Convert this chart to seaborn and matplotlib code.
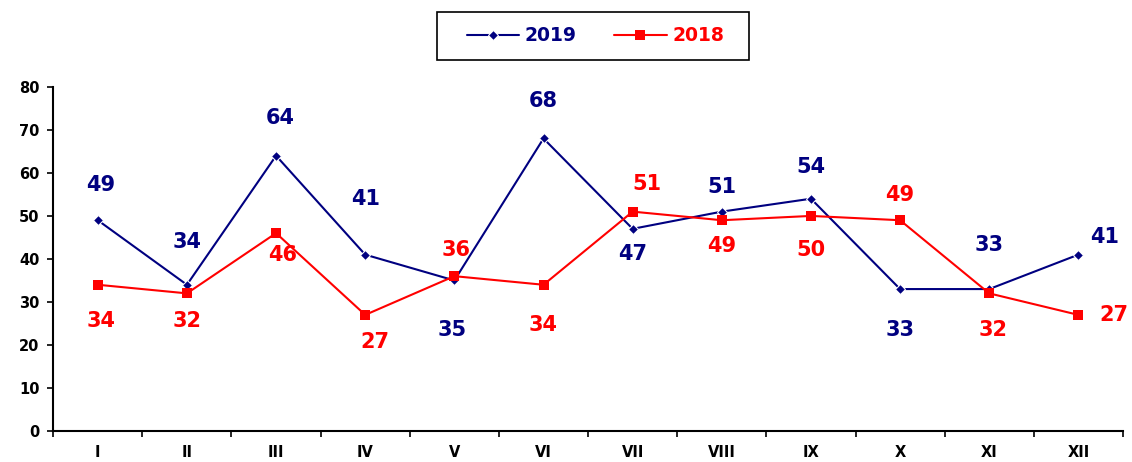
import numpy as np
import pandas as pd
import matplotlib
matplotlib.use("Agg")
import matplotlib.pyplot as plt
from matplotlib.patches import Rectangle
import seaborn as sns

months = ["I", "II", "III", "IV", "V", "VI", "VII", "VIII", "IX", "X", "XI", "XII"]
y2019 = [49, 34, 64, 41, 35, 68, 47, 51, 54, 33, 33, 41]
y2018 = [34, 32, 46, 27, 36, 34, 51, 49, 50, 49, 32, 27]

# label offsets in pixels (dx, dy)
off2019 = [(3, 35), (0, 43), (4, 38), (0, 56), (-2, -50), (0, 37), (0, -25),
           (0, 25), (0, 32), (0, -41), (0, 44), (26, 18)]
off2018 = [(3, -36), (0, -28), (7, -22), (10, -27), (2, 26), (0, -40), (14, 28),
           (0, -26), (0, -34), (0, 25), (4, -37), (36, 0)]

NAVY = "#000080"
RED = "#FF0000"

sns.set_style("white")
plt.rcParams["font.family"] = ["DejaVu Sans"]

fig = plt.figure(figsize=(11.32, 4.62), dpi=100)
ax = fig.add_axes([0.047, 0.067, 0.945, 0.745])

pos = np.arange(len(months))
df = pd.DataFrame({"pos": pos, "2019": y2019, "2018": y2018})

sns.lineplot(data=df, x="pos", y="2019", ax=ax, color=NAVY, marker="D",
             markersize=5, linewidth=1.5, label="2019")
sns.lineplot(data=df, x="pos", y="2018", ax=ax, color=RED, marker="s",
             markersize=7, markeredgewidth=0, linewidth=1.5, label="2018")

for i, v in enumerate(y2019):
    ax.annotate(str(v), (pos[i], v), xytext=off2019[i], textcoords="offset pixels",
                ha="center", va="center", color=NAVY, fontsize=15, fontweight="bold")
for i, v in enumerate(y2018):
    ax.annotate(str(v), (pos[i], v), xytext=off2018[i], textcoords="offset pixels",
                ha="center", va="center", color=RED, fontsize=15, fontweight="bold")

ax.set_xlim(-0.5, len(months) - 0.5)
ax.set_ylim(0, 80)
ax.set_yticks(range(0, 81, 10))
ax.set_xticks(np.arange(-0.5, len(months), 1.0))
ax.set_xticklabels([])
ax.set_xticks(pos, minor=True)
ax.set_xticklabels(months, minor=True)
ax.tick_params(axis="x", which="minor", bottom=True, length=0, pad=10, labelsize=10.5,
               labelcolor="black")
ax.tick_params(axis="x", which="major", bottom=True, length=4, width=1.2, direction="out", color="black")
ax.tick_params(axis="y", left=True, length=4, width=1.2, direction="out", color="black",
               labelsize=10.5, pad=6, labelcolor="black")
for lab in ax.get_xticklabels(minor=True) + ax.get_yticklabels():
    lab.set_fontweight("bold")
ax.set_xlabel("")
ax.set_ylabel("")
ax.grid(False)

for s in ["top", "right"]:
    ax.spines[s].set_visible(False)
for s in ["left", "bottom"]:
    ax.spines[s].set_color("black")
    ax.spines[s].set_linewidth(1.5)

ax.get_legend().remove()
h, l = ax.get_legend_handles_labels()
leg = fig.legend(h, l, loc="center", bbox_to_anchor=(0.526, 0.923), ncol=2,
                 frameon=False, fontsize=13.5,
                 handlelength=2.8, columnspacing=2.0, handletextpad=0.3)
for t, c in zip(leg.get_texts(), [NAVY, RED]):
    t.set_color(c)
    t.set_fontweight("bold")

# legend frame drawn separately, it is wider than the entries
fig.patches.append(Rectangle((437 / 1132, 1 - 60 / 462), 312 / 1132, 48 / 462,
                             transform=fig.transFigure, fill=False,
                             edgecolor="black", linewidth=1.2))

fig.savefig("out.png", dpi=100)
